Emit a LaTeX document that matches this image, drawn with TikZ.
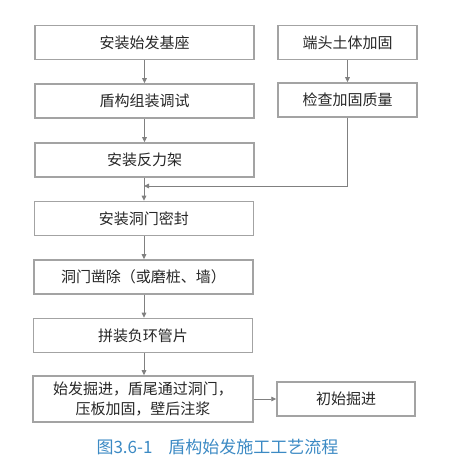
\documentclass[tikz,border=0pt]{standalone}
\usepackage{fontspec}
\setmainfont{Noto Sans CJK SC}
\usetikzlibrary{arrows.meta}
\definecolor{boxgray}{HTML}{A3A3A3}
\definecolor{linegray}{HTML}{808080}
\definecolor{capblue}{HTML}{3C8AC4}
\begin{document}
\begin{tikzpicture}[x=1pt,y=-1pt,
  box/.style={draw=boxgray, line width=1.5pt, inner sep=0pt, align=center,
    font=\fontsize{15}{20}\selectfont, text=black!85},
  lbox/.style={box, minimum width=219pt, minimum height=34pt},
  rbox/.style={box, minimum width=139pt, minimum height=34pt},
  arr/.style={draw=linegray, line width=0.9pt, -{Triangle[length=5pt,width=4.5pt]}}]
\useasboundingbox (0,0) rectangle (475,462);
\node[lbox] (b1) at (144.5,42.5) {安装始发基座};
\node[lbox] (b2) at (144.5,101) {盾构组装调试};
\node[lbox] (b3) at (144.5,160) {安装反力架};
\node[lbox] (b4) at (144,218.5) {安装洞门密封};
\node[lbox] (b5) at (143.5,277) {洞门凿除（或磨桩、墙）};
\node[lbox] (b6) at (143,335.5) {拼装负环管片};
\node[lbox, minimum width=220pt, minimum height=46pt] (b7) at (143,399) {始发掘进，盾尾通过洞门，\\压板加固，壁后注浆};
\node[rbox] (r1) at (347.5,42.5) {端头土体加固};
\node[rbox] (r2) at (347.5,100) {检查加固质量};
\node[rbox, minimum width=138pt] (r7) at (346,399) {初始掘进};
\coordinate (m) at (144,186);
\draw[arr] (b1.south) -- (b1.south |- b2.north);
\draw[arr] (b2.south) -- (b2.south |- b3.north);
\draw[arr] (b3.south -| m) -- (m |- b4.north);
\draw[arr] (b4.south -| m) -- (m |- b5.north);
\draw[arr] (b5.south -| m) -- (m |- b6.north);
\draw[arr] (b6.south -| m) -- (m |- b7.north);
\draw[arr] (r1.south) -- (r2.north);
\draw[arr] (r2.south) |- (m);
\draw[arr] (b7.east) -- (r7.west);
\node[text=capblue, font=\fontsize{17}{20}\selectfont, inner sep=0pt] (cap) at (217.5,447) {图3.6-1\hspace{16pt}盾构始发施工工艺流程};
\end{tikzpicture}
\end{document}
